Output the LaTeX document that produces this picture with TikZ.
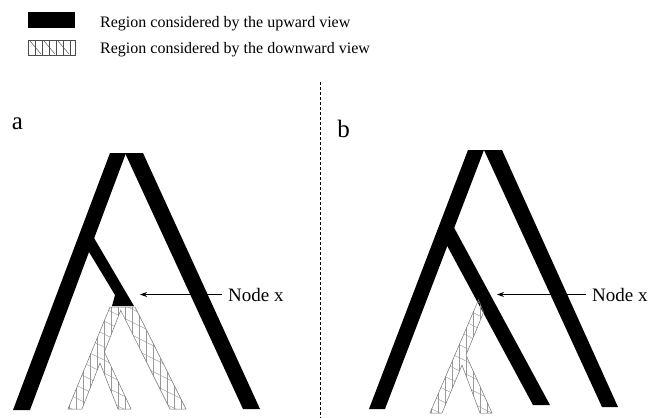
\documentclass[tikz,border=0pt]{standalone}
\usepackage{fontspec}
\setmainfont{Liberation Serif}
\usetikzlibrary{arrows.meta}
\begin{document}
\begin{tikzpicture}[x=1pt,y=-1pt,
  blk/.style={fill=black,draw=none},
  hout/.style={draw=black!55,line width=0.5pt},
  hln/.style={draw=black!40,line width=0.45pt},
  legtext/.style={font=\fontsize{16}{18}\selectfont,anchor=base west,inner sep=0},
  panel/.style={font=\fontsize{25}{28}\selectfont,inner sep=0},
  nodelbl/.style={font=\fontsize{19}{22}\selectfont,anchor=west,inner sep=0},
  pointer/.style={-{Stealth[length=7pt,width=5pt]},line width=0.8pt,shorten <=6pt},
  sep/.style={dashed,dash pattern=on 3pt off 2pt,line width=0.7pt}
]
\useasboundingbox (0,0) rectangle (657,418);

% legend
\fill[blk] (28,12) rectangle (75,28);
\node[legtext] (leg1) at (100,27) {Region considered by the upward view};
\begin{scope}
  \clip (28,40) rectangle (75,55);
  \foreach \x in {35,42,49,56,63,70} \draw[hln,draw=black!70] (\x,40) -- (\x,55);
  \foreach \x in {30,44,58} \draw[hln,draw=black!70] (\x,41) -- (\x+11,54);
\end{scope}
\draw[hout,draw=black!70] (28,40) rectangle (75,55);
\node[legtext] (leg2) at (100,53) {Region considered by the downward view};

% separator
\coordinate (sepTop) at (320,82);
\coordinate (sepBot) at (320,418);
\draw[sep] (sepTop) -- (sepBot);

% panel labels
\node[panel] (la) at (17.5,124) {a};
\node[panel] (lb) at (343.5,129) {b};

% ---------- panel a ----------
\fill[blk] (110,153) -- (126,153) -- (30,410) -- (13,410) -- cycle;
\fill[blk] (125,153) -- (143,153) -- (260,409) -- (243,409) -- cycle;
\fill[blk] (90.5,232) -- (134,306) -- (112,306) -- (115,295) -- (85.4,246) -- cycle;

\begin{scope}
  \clip (110,307) -- (135,307) -- (186,409) -- (170,409) -- (120.7,310.3) -- (104.4,352)
        -- (131,409) -- (118,409) -- (100,363) -- (82,409) -- (68,409) -- cycle;
  \foreach \x in {62,69,...,190} \draw[hln] (\x,300) -- (\x,412);
  \foreach \k in {0,...,16} \draw[hln] (40,250+\k*13) -- ++(180,90);
\end{scope}
\draw[hout] (110,307) -- (135,307) -- (186,409) -- (170,409) -- (120.7,310.3) -- (104.4,352)
        -- (131,409) -- (118,409) -- (100,363) -- (82,409) -- (68,409) -- cycle;

\node[nodelbl] (nxa) at (228,294.5) {Node x};
\coordinate (tipA) at (140,294.5);
\draw[pointer] (nxa.west) -- (tipA);

% ---------- panel b ----------
\fill[blk] (468,150) -- (484,150) -- (385,409) -- (369,409) -- cycle;
\fill[blk] (484,150) -- (502,150) -- (618,407) -- (602,407) -- cycle;
\fill[blk] (451,222) -- (550,405) -- (533,405) -- (444,240) -- cycle;

\begin{scope}
  \clip (478.6,299.7) -- (483.6,312.3) -- (466,355) -- (492,413) -- (480,413) -- (462,365)
        -- (442,413) -- (430,413) -- cycle;
  \foreach \x in {424,431,...,500} \draw[hln] (\x,295) -- (\x,415);
  \foreach \k in {0,...,16} \draw[hln] (400,250+\k*13) -- ++(120,60);
\end{scope}
\draw[hout] (478.6,299.7) -- (483.6,312.3) -- (466,355) -- (492,413) -- (480,413) -- (462,365)
        -- (442,413) -- (430,413) -- cycle;

\node[nodelbl] (nxb) at (592,294.5) {Node x};
\coordinate (tipB) at (497,294.5);
\draw[pointer] (nxb.west) -- (tipB);
\end{tikzpicture}
\end{document}
